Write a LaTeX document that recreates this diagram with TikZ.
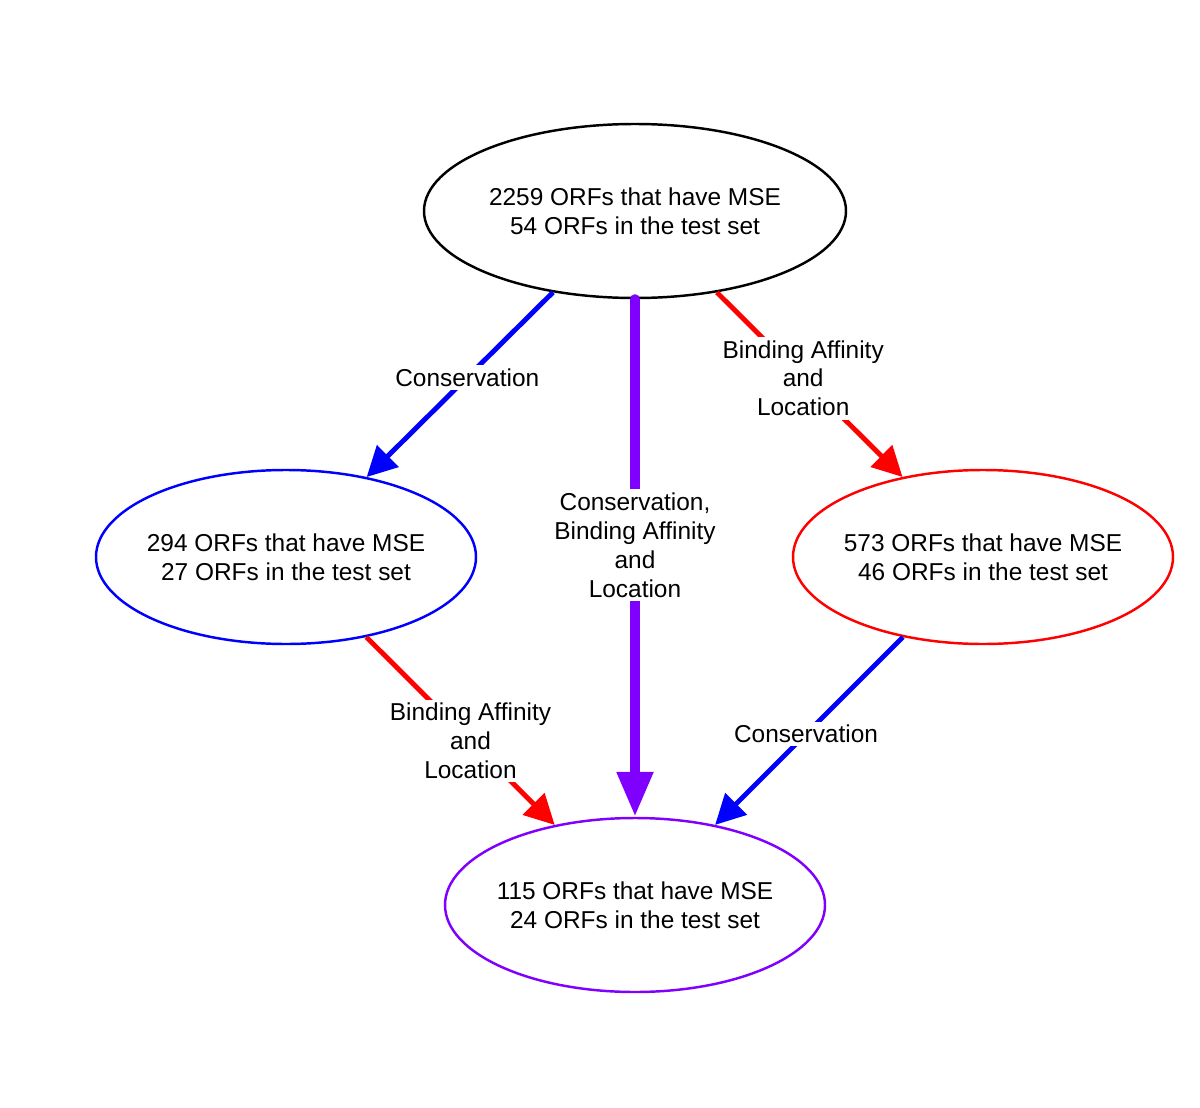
\documentclass[tikz,border=0pt]{standalone}
\usepackage{fontspec}
\setmainfont{Liberation Sans}
\usetikzlibrary{arrows.meta,shapes.geometric}
\definecolor{vio}{HTML}{7F00FF}
\begin{document}
\begin{tikzpicture}[x=0.02cm,y=-0.02cm,
  font=\fontsize{13.9pt}{16.4pt}\selectfont,
  orf/.style={ellipse, draw, line width=1.4pt, minimum width=380*0.02cm, minimum height=174*0.02cm, inner ysep=0pt, inner xsep=-0.1cm, align=center},
  conn/.style={line width=2.8pt, -{Triangle[length=17pt,width=17pt]}},
  bigconn/.style={line width=5.7pt, line cap=round, -{Triangle[length=25.5pt,width=19.5pt]}},
  lab/.style={fill=white, inner sep=2pt, align=center, text=black}]
\useasboundingbox (0,0) rectangle (1200,1108);
\node[orf, black, minimum width=422*0.02cm] (top) at (635,211) {2259 ORFs that have MSE\\54 ORFs in the test set};
\node[orf, blue] (left) at (286,557) {\color{black}294 ORFs that have MSE\\\color{black}27 ORFs in the test set};
\node[orf, red] (right) at (983,557) {\color{black}573 ORFs that have MSE\\\color{black}46 ORFs in the test set};
\node[orf, vio] (bot) at (635,905) {\color{black}115 ORFs that have MSE\\\color{black}24 ORFs in the test set};
\draw[conn, blue] (top) -- node[lab, pos=0.46] (l1) {Conservation} (left);
\draw[conn, red] (top) -- node[lab, pos=0.465] (l2) {Binding Affinity\\and\\Location} (right);
\draw[bigconn, vio] (top) -- node[lab, pos=0.475] (l3) {Conservation,\\Binding Affinity\\and\\Location} (bot);
\draw[conn, red] (left) -- node[lab, pos=0.553] (l4) {Binding Affinity\\and\\Location} (bot);
\draw[conn, blue] (right) -- node[lab, pos=0.516] (l5) {Conservation} (bot);
\end{tikzpicture}
\end{document}
